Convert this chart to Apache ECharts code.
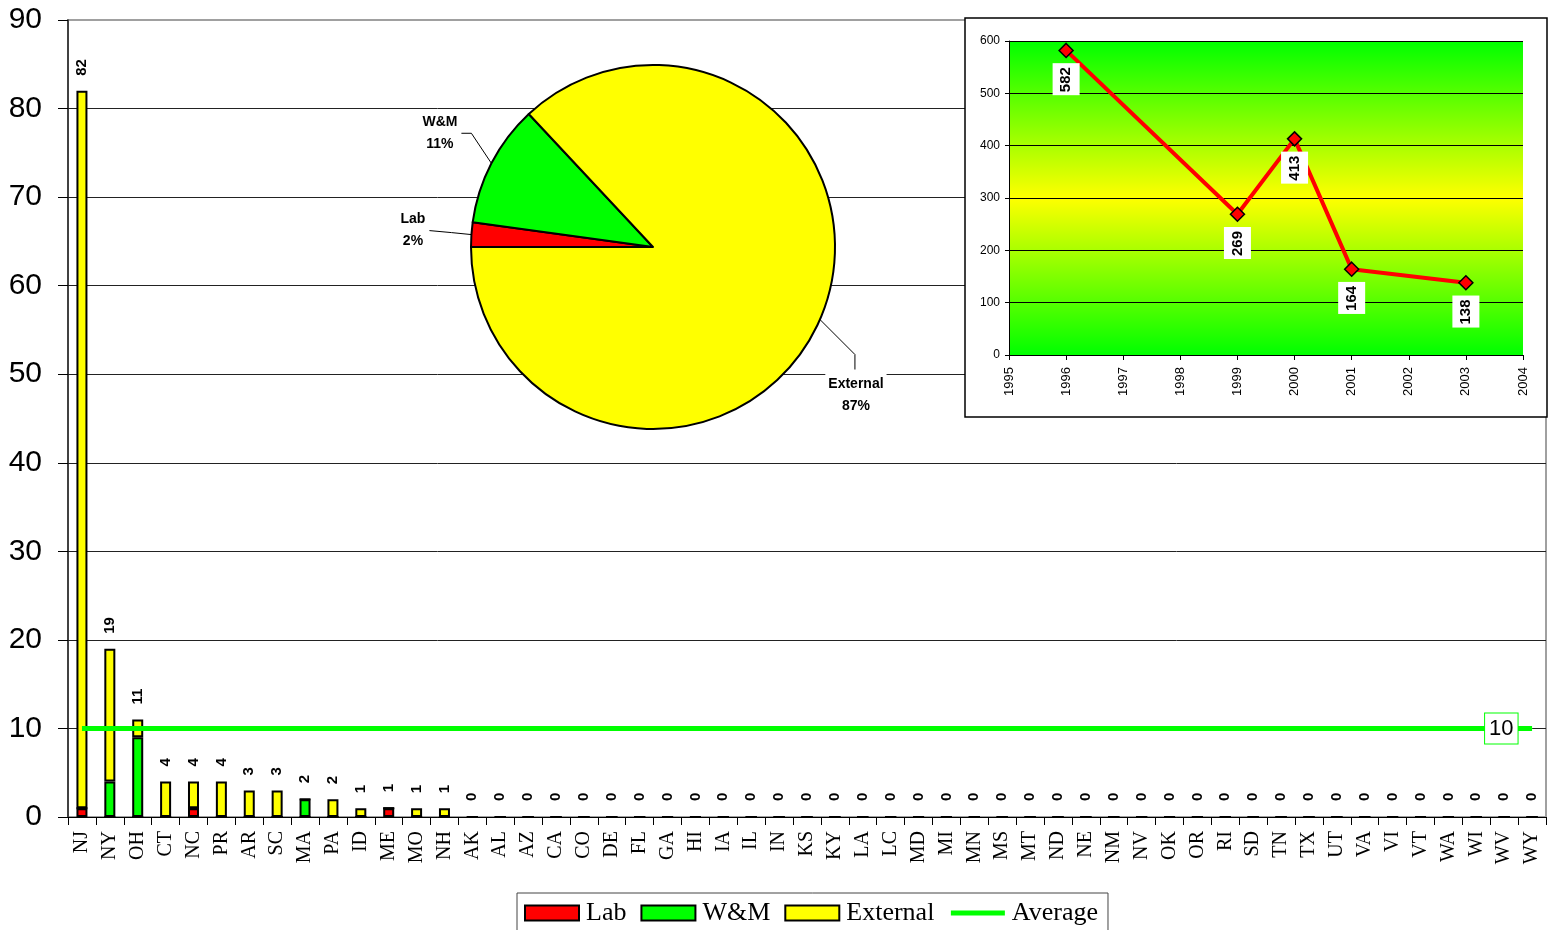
<!DOCTYPE html>
<html>
<head>
<meta charset="utf-8">
<script src="https://cdn.jsdelivr.net/npm/echarts@6/dist/echarts.min.js"></script>
<style>
  html, body { margin: 0; padding: 0; background: #fff; }
  #chart { width: 1556px; height: 930px; }
</style>
</head>
<body>
<div id="chart"></div>
<script>
// Visits per state, split by who hosted them
const states = ['NJ','NY','OH','CT','NC','PR','AR','SC','MA','PA','ID','ME','MO','NH',
  'AK','AL','AZ','CA','CO','DE','FL','GA','HI','IA','IL','IN','KS','KY','LA','LC','MD',
  'MI','MN','MS','MT','ND','NE','NM','NV','OK','OR','RI','SD','TN','TX','UT','VA','VI',
  'VT','WA','WI','WV','WY'];
const labCounts = [1,0,0,0,1,0,0,0,0,0,0,1,0,0,
  0,0,0,0,0,0,0,0,0,0,0,0,0,0,0,0,0,0,0,0,0,0,0,0,0,0,0,0,0,0,0,0,0,0,0,0,0,0,0];
const wmCounts = [0,4,9,0,0,0,0,0,2,0,0,0,0,0,
  0,0,0,0,0,0,0,0,0,0,0,0,0,0,0,0,0,0,0,0,0,0,0,0,0,0,0,0,0,0,0,0,0,0,0,0,0,0,0];
const externalCounts = [81,15,2,4,3,4,3,3,0,2,1,0,1,1,
  0,0,0,0,0,0,0,0,0,0,0,0,0,0,0,0,0,0,0,0,0,0,0,0,0,0,0,0,0,0,0,0,0,0,0,0,0,0,0];
const averageValue = 10;

// Yearly totals for the inset
const years = [1996, 1999, 2000, 2001, 2003];
const yearTotals = [582, 269, 413, 164, 138];

const SANS = "'Liberation Sans', Arial, sans-serif";
const SERIF = "'Liberation Serif', 'Times New Roman', serif";

const totals = states.map((_, i) => labCounts[i] + wmCounts[i] + externalCounts[i]);
const sum = a => a.reduce((s, v) => s + v, 0);

// Flat average line; only its last point carries a (boxed) label
const averageData = states.map(() => averageValue);
averageData[averageData.length - 1] = {
  value: averageValue,
  symbol: 'circle', symbolSize: 1,
  label: {
    show: true, position: 'left', distance: 14,
    formatter: '{c}', fontFamily: SANS, fontSize: 22, color: '#000',
    backgroundColor: '#fff', borderColor: '#00ff00', borderWidth: 1,
    padding: [5, 4, 3, 4]
  }
};

// Leader-line offsets for the pie labels, relative to the slice edge point
const pieLeaders = [
  { knee: [-20, -2], end: [-42, -4], align: 'right' },
  { knee: [-20, -30], end: [-30, -30], align: 'right' },
  { knee: [35, 35], end: [35, 50], align: 'center' }
];

const barItem = color => ({ color: color, borderColor: '#000', borderWidth: 2 });

const chart = echarts.init(document.getElementById('chart'), null, { renderer: 'canvas' });

chart.setOption({
  animation: false,
  backgroundColor: '#fff',
  textStyle: { fontFamily: SANS },
  graphic: [{
    type: 'rect', z: 3,
    shape: { x: 965, y: 18, width: 582, height: 399 },
    style: { fill: '#fff', stroke: '#000', lineWidth: 1.5 }
  }],
  legend: {
    data: [
      { name: 'Lab', icon: 'rect' },
      { name: 'W&M', icon: 'rect' },
      { name: 'External', icon: 'rect' },
      { name: 'Average', itemStyle: { opacity: 0 }, lineStyle: { width: 5, color: '#00ff00' } }
    ],
    left: 517, top: 893,
    padding: [7, 10, 8, 7],
    itemGap: 14, itemWidth: 54, itemHeight: 15,
    borderColor: '#444', borderWidth: 1, borderRadius: 0,
    backgroundColor: '#fff',
    selectedMode: false,
    textStyle: { fontFamily: SERIF, fontSize: 26, color: '#000', padding: [0, 0, 0, 2] }
  },
  grid: [
    { left: 68, right: 10, top: 20, bottom: 113, show: true,
      borderColor: '#a0a0a0', borderWidth: 2, backgroundColor: 'transparent',
      containLabel: false, outerBoundsMode: 'none' },
    { left: 1009, top: 41, width: 514, height: 314, show: true, z: 4,
      borderWidth: 0, containLabel: false, outerBoundsMode: 'none',
      backgroundColor: new echarts.graphic.LinearGradient(0, 0, 0, 1, [
        { offset: 0, color: '#00ff00' },
        { offset: 0.5, color: '#ffff00' },
        { offset: 1, color: '#00ff00' }
      ]) }
  ],
  xAxis: [
    { type: 'category', gridIndex: 0, data: states, boundaryGap: true,
      axisLine: { show: true, lineStyle: { color: '#000', width: 1 } },
      axisTick: { show: true, length: 8, alignWithLabel: false, lineStyle: { color: '#000' } },
      axisLabel: { interval: 0, rotate: 90, margin: 14, fontFamily: SERIF, fontSize: 20, color: '#000' },
      splitLine: { show: false } },
    { type: 'value', gridIndex: 1, min: 1995, max: 2004, interval: 1, z: 4,
      axisLine: { show: true, lineStyle: { color: '#000', width: 1 } },
      axisTick: { show: true, length: 5, lineStyle: { color: '#000' } },
      axisLabel: { rotate: 90, margin: 12, fontFamily: SANS, fontSize: 13, color: '#000',
        formatter: v => String(v) },
      splitLine: { show: false } }
  ],
  yAxis: [
    { type: 'value', gridIndex: 0, min: 0, max: 90, interval: 10,
      axisLine: { show: true, lineStyle: { color: '#222', width: 1.5 } },
      axisTick: { show: true, length: 10, lineStyle: { color: '#000' } },
      axisLabel: { margin: 26, fontFamily: SANS, fontSize: 30, color: '#000' },
      splitLine: { show: true, showMaxLine: false, lineStyle: { color: '#222', width: 1 } } },
    { type: 'value', gridIndex: 1, min: 0, max: 600, interval: 100, z: 4,
      axisLine: { show: true, lineStyle: { color: '#000', width: 1 } },
      axisTick: { show: true, length: 4, lineStyle: { color: '#000' } },
      axisLabel: { margin: 9, fontFamily: SANS, fontSize: 12, color: '#000' },
      splitLine: { show: true, lineStyle: { color: '#000', width: 1 } } }
  ],
  series: [
    { name: 'Lab', type: 'bar', stack: 'visits', data: labCounts, barWidth: 11,
      itemStyle: barItem('#ff0000') },
    { name: 'W&M', type: 'bar', stack: 'visits', data: wmCounts, barWidth: 11,
      itemStyle: barItem('#00ff00') },
    { name: 'External', type: 'bar', stack: 'visits', data: externalCounts, barWidth: 11,
      itemStyle: barItem('#ffff00'),
      label: { show: true, position: 'top', distance: 15, rotate: 90,
        align: 'left', verticalAlign: 'middle',
        fontFamily: SANS, fontWeight: 'bold', fontSize: 15, color: '#000',
        formatter: p => String(totals[p.dataIndex]) } },
    { name: 'Average', type: 'line', data: averageData, symbol: 'none', showSymbol: true, z: 3,
      lineStyle: { color: '#00ff00', width: 5 }, itemStyle: { color: '#00ff00' } },
    { name: 'Share', type: 'pie', center: [653, 247], radius: 182,
      startAngle: 180, clockwise: true, percentPrecision: 0,
      itemStyle: { borderColor: '#000', borderWidth: 2 },
      data: [
        { name: 'Lab', value: sum(labCounts), itemStyle: { color: '#ff0000' } },
        { name: 'W&M', value: sum(wmCounts), itemStyle: { color: '#00ff00' } },
        { name: 'External', value: sum(externalCounts), itemStyle: { color: '#ffff00' } }
      ],
      label: { show: true, position: 'outside', formatter: '{t|{b}}\n{t|{d}%}',
        backgroundColor: '#fff', padding: [1, 3],
        rich: { t: { fontFamily: SANS, fontWeight: 'bold', fontSize: 14, color: '#000',
          align: 'center', lineHeight: 22 } } },
      labelLine: { show: true, length: 30, length2: 8, smooth: false,
        lineStyle: { color: '#000', width: 1 } },
      labelLayout: p => {
        if (!p.labelLinePoints) return {};
        const lead = pieLeaders[p.dataIndex];
        const p0 = p.labelLinePoints[0];
        const knee = [p0[0] + lead.knee[0], p0[1] + lead.knee[1]];
        const end = [p0[0] + lead.end[0], p0[1] + lead.end[1]];
        if (lead.align === 'center') {
          return { x: end[0] + 1, y: end[1] + 3, align: 'center', verticalAlign: 'top',
            labelLinePoints: [p0, knee, end] };
        }
        return { x: end[0] - 1, y: end[1], align: 'right', verticalAlign: 'middle',
          labelLinePoints: [p0, knee, end] };
      } },
    { name: 'Yearly', type: 'line', xAxisIndex: 1, yAxisIndex: 1, z: 5,
      data: years.map((y, i) => [y, yearTotals[i]]),
      lineStyle: { color: '#ff0000', width: 4 },
      symbol: 'diamond', symbolSize: 14,
      itemStyle: { color: '#ff0000', borderColor: '#000', borderWidth: 1.5 },
      label: { show: true, position: 'bottom', distance: 5, rotate: 90,
        align: 'right', verticalAlign: 'middle',
        fontFamily: SANS, fontWeight: 'bold', fontSize: 15, color: '#000',
        backgroundColor: '#fff', padding: [6, 4, 6, 3],
        formatter: p => String(p.value[1]) } }
  ]
});
</script>
</body>
</html>
